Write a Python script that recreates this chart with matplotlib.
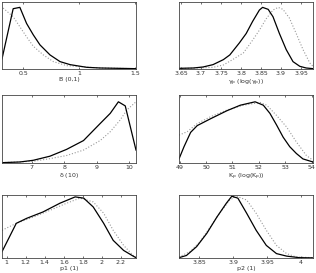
import numpy as np
import matplotlib
matplotlib.use('Agg')
import matplotlib.pyplot as plt

# panel 1: B (0,1)
b_x_post = [0.31, 0.41, 0.47, 0.53, 0.59, 0.65, 0.74, 0.83, 0.92, 1.07, 1.19, 1.51]
b_y_post = [0.15, 0.90, 0.92, 0.68, 0.51, 0.36, 0.21, 0.11, 0.065, 0.025, 0.015, 0.005]
b_x_prior = [0.32, 0.41, 0.47, 0.53, 0.59, 0.68, 0.77, 0.89, 1.19, 1.51]
b_y_prior = [0.91, 0.78, 0.63, 0.48, 0.34, 0.21, 0.11, 0.05, 0.015, 0.005]

# panel 2: gamma_p
g_x_post = [3.645, 3.681, 3.705, 3.730, 3.756, 3.772, 3.796, 3.813, 3.829, 3.846,
            3.854, 3.868, 3.880, 3.896, 3.913, 3.930, 3.947, 3.963, 3.980]
g_y_post = [0.01, 0.015, 0.03, 0.065, 0.14, 0.21, 0.39, 0.53, 0.71, 0.88,
            0.92, 0.89, 0.78, 0.53, 0.29, 0.11, 0.04, 0.015, 0.005]
g_x_prior = [3.645, 3.730, 3.756, 3.779, 3.806, 3.829, 3.846, 3.863, 3.880, 3.893,
             3.905, 3.921, 3.938, 3.955, 3.972, 3.980]
g_y_prior = [0.005, 0.025, 0.06, 0.14, 0.24, 0.43, 0.58, 0.75, 0.88, 0.92,
             0.89, 0.76, 0.53, 0.29, 0.09, 0.04]

# panel 3: delta
d_x_post = [6.09, 6.64, 7.05, 7.56, 8.07, 8.59, 9.10, 9.41, 9.66, 9.87, 10.20]
d_y_post = [0.005, 0.015, 0.04, 0.10, 0.20, 0.33, 0.58, 0.73, 0.90, 0.84, 0.19]
d_x_prior = [6.09, 7.05, 7.56, 8.07, 8.59, 9.10, 9.41, 9.71, 9.92, 10.20]
d_y_prior = [0.005, 0.025, 0.064, 0.11, 0.19, 0.33, 0.46, 0.63, 0.78, 0.90]

# panel 4: K_p
k_x_post = [48.98, 49.17, 49.42, 49.67, 50.17, 50.80, 51.30, 51.86, 52.17, 52.42,
            52.67, 52.92, 53.17, 53.42, 53.67, 54.05]
k_y_post = [0.06, 0.24, 0.45, 0.55, 0.65, 0.77, 0.85, 0.90, 0.85, 0.73,
            0.56, 0.38, 0.24, 0.14, 0.06, 0.015]
k_x_prior = [48.98, 49.29, 49.67, 50.17, 50.80, 51.42, 52.05, 52.30, 52.67, 53.05,
             53.42, 53.80, 54.05]
k_y_prior = [0.41, 0.46, 0.58, 0.68, 0.78, 0.85, 0.89, 0.85, 0.70, 0.53,
             0.31, 0.11, 0.04]

# panel 5: p1
p1_x_post = [0.95, 1.03, 1.10, 1.21, 1.38, 1.56, 1.72, 1.81, 1.91, 2.02, 2.12, 2.23, 2.33, 2.36]
p1_y_post = [0.10, 0.34, 0.55, 0.63, 0.73, 0.87, 0.97, 0.95, 0.81, 0.55, 0.28, 0.12, 0.03, 0.005]
p1_x_prior = [0.95, 1.10, 1.28, 1.46, 1.63, 1.77, 1.91, 2.02, 2.12, 2.23, 2.33, 2.36]
p1_y_prior = [0.44, 0.55, 0.65, 0.76, 0.87, 0.95, 0.89, 0.71, 0.44, 0.20, 0.04, 0.02]

# panel 6: p2
p2_x_post = [3.820, 3.831, 3.846, 3.861, 3.876, 3.890, 3.898, 3.907, 3.920, 3.934,
             3.949, 3.964, 3.979, 3.998, 4.018]
p2_y_post = [0.005, 0.04, 0.18, 0.39, 0.65, 0.87, 0.98, 0.95, 0.71, 0.44,
             0.20, 0.07, 0.03, 0.005, 0.002]
p2_x_prior = [3.820, 3.836, 3.851, 3.866, 3.880, 3.895, 3.905, 3.920, 3.934, 3.949,
              3.964, 3.979, 3.993, 4.018]
p2_y_prior = [0.016, 0.10, 0.26, 0.49, 0.71, 0.92, 0.98, 0.92, 0.71, 0.44,
              0.20, 0.07, 0.016, 0.005]

panels = [
  (b_x_post, b_y_post, b_x_prior, b_y_prior, (0.31, 1.51), [0.5, 1, 1.5], ['0.5', '1', '1.5'], 'B (0,1)'),
  (g_x_post, g_y_post, g_x_prior, g_y_prior, (3.645, 3.98),
   [3.65, 3.7, 3.75, 3.8, 3.85, 3.9, 3.95], ['3.65', '3.7', '3.75', '3.8', '3.85', '3.9', '3.95'],
   r'$\gamma_p$ (log($\gamma_p$))'),
  (d_x_post, d_y_post, d_x_prior, d_y_prior, (6.09, 10.2), [7, 8, 9, 10], ['7', '8', '9', '10'], r'$\delta$ (10)'),
  (k_x_post, k_y_post, k_x_prior, k_y_prior, (48.98, 54.05),
   [49, 50, 51, 52, 53, 54], ['49', '50', '51', '52', '53', '54'], r'K$_p$ (log(K$_p$))'),
  (p1_x_post, p1_y_post, p1_x_prior, p1_y_prior, (0.95, 2.36),
   [1, 1.2, 1.4, 1.6, 1.8, 2, 2.2], ['1', '1.2', '1.4', '1.6', '1.8', '2', '2.2'], 'p1 (1)'),
  (p2_x_post, p2_y_post, p2_x_prior, p2_y_prior, (3.82, 4.018),
   [3.85, 3.9, 3.95, 4], ['3.85', '3.9', '3.95', '4'], 'p2 (1)'),
]

# axes boxes in pixels: (left, top, right, bottom)
W, H = 316, 273
rows = [(2, 69), (95, 163), (195, 258)]
cols = [(2, 136), (179, 313)]

plt.rcParams['mathtext.default'] = 'regular'
fig = plt.figure(figsize=(W / 100, H / 100), dpi=100)

for i, (xs, ys, xp, yp, xlim, ticks, labels, xlabel) in enumerate(panels):
  top, bot = rows[i // 2]
  l, r = cols[i % 2]
  ax = fig.add_axes([l / W, 1 - bot / H, (r - l) / W, (bot - top) / H])
  ax.plot(xp, yp, color='#999999', linestyle=':', linewidth=0.8)
  ax.plot(xs, ys, color='black', linewidth=0.9)
  ax.set_xlim(xlim)
  ax.set_ylim(0, 1)
  ax.set_xticks(ticks)
  ax.set_xticklabels(labels)
  ax.set_yticks([])
  ax.tick_params(axis='x', direction='in', top=True, length=1.5, width=0.5,
                 labelsize=4.5, pad=1.5, colors='#333333')
  for s in ax.spines.values():
    s.set_linewidth(0.6)
    s.set_color('#444444')
  ax.set_xlabel(xlabel, fontsize=4.5, labelpad=1, color='#333333')

fig.savefig('out.png', dpi=100)
